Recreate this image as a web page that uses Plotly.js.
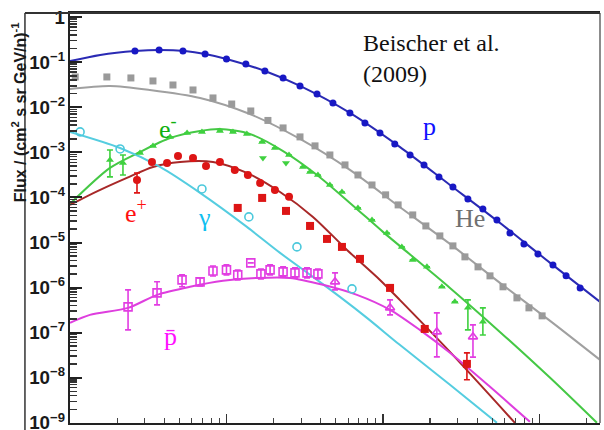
<!DOCTYPE html>
<html>
<head>
<meta charset="utf-8">
<script src="https://cdn.plot.ly/plotly-3.0.1.min.js"></script>
<style>html,body{margin:0;padding:0;background:#fff;}#chart{width:604px;height:430px;}</style>
</head>
<body>
<div id="chart"></div>
<script>
// ---- Data (energy in GeV/n, flux in (cm^2 s sr GeV/n)^-1) ----
// Protons
const pE = [0.260,0.371,0.527,0.73,1.0,1.33,1.76,2.30,2.95,3.79,4.79,6.15,7.67,9.57,11.9,14.9,18.3,22.8,28.0,34.9,43.5,53.5,64.8,79.6,97.8,122,148,182];
const pF = [0.177,0.187,0.177,0.152,0.118,0.0912,0.0638,0.0447,0.0297,0.0197,0.0124,7.48e-3,4.49e-3,2.69e-3,1.53e-3,8.75e-4,5.26e-4,2.85e-4,1.71e-4,9.27e-5,5.56e-5,3.17e-5,1.63e-5,9.31e-6,5.58e-6,3.18e-6,1.82e-6,9.84e-7];
const pModelE = [0.1,0.156,0.26,0.376,0.543,0.73,1.0,1.76,2.95,6.15,12.8,26.8,55.9,117,244];
const pModelF = [0.106,0.145,0.177,0.187,0.177,0.152,0.118,0.0638,0.0297,7.48e-3,1.32e-3,1.89e-4,2.72e-5,3.53e-6,4.82e-7];
// Helium
const heE = [0.108,0.172,0.245,0.339,0.455,0.611,0.82,1.08,1.43,1.84,2.30,2.95,3.68,4.58,5.72,6.92,8.51,10.4,12.5,15.5,18.8,23.1,28.0,33.4,40.5,48.3,58.5,71.8,85.7,104];
const heF = [0.047,0.047,0.0447,0.0383,0.0312,0.0242,0.0161,0.0118,8.28e-3,5.1e-3,3.48e-3,2.20e-3,1.39e-3,8.75e-4,5.26e-4,3.15e-4,1.89e-4,1.14e-4,6.82e-5,4.09e-5,2.33e-5,1.40e-5,8.41e-6,4.80e-6,2.88e-6,1.82e-6,1.04e-6,5.91e-7,3.55e-7,2.36e-7];
const heModelE = [0.1,0.180,0.324,0.678,1.41,2.95,6.15,12.8,26.8,55.9,117,244];
const heModelF = [0.0255,0.0297,0.0242,0.0161,7.10e-3,1.98e-3,4.07e-4,6.15e-5,9.31e-6,1.27e-6,1.83e-7,2.49e-8];
// Electrons
const emE = [0.180,0.218,0.280,0.339,0.436,0.560,0.697,0.908,1.10,1.35,1.69,2.04,2.51,3.08,3.42,3.84,4.58,5.47,6.92,8.51,10.6,13.2,15.5,19.1,23.8,28.8,34.9,43.5];
const emF = [6.79e-4,5.82e-4,9.70e-4,1.39e-3,2.20e-3,2.69e-3,2.84e-3,2.98e-3,2.84e-3,2.56e-3,1.70e-3,1.25e-3,8.75e-4,4.74e-4,3.67e-4,3.15e-4,1.89e-4,1.32e-4,5.85e-5,3.17e-5,1.63e-5,7.98e-6,4.11e-6,2.88e-6,1.04e-6,4.82e-7,3.55e-7,1.74e-7];
const emErrPlus  = [4.5e-4,2.93e-4,0,0,0,0,0,0,0,0,0,0,0,0,0,0,0,0,0,0,0,0,0,0,0,0,1.79e-7,1.81e-7];
const emErrMinus = [3.94e-4,2.67e-4,0,0,0,0,0,0,0,0,0,0,0,0,0,0,0,0,0,0,0,0,0,0,0,0,2.4e-7,8.5e-8];
const emDownE = [1.71,2.40];
const emDownF = [7.52e-4,5.82e-4];
const emModelE = [0.1,0.180,0.280,0.436,0.678,0.908,1.41,2.30,3.79,6.15,10.0,12.8,26.8,55.9,117,233];
const emModelF = [7.18e-5,4.51e-4,1.02e-3,2.08e-3,2.98e-3,3.30e-3,2.56e-3,1.07e-3,3.15e-4,7.55e-5,1.72e-5,8.41e-6,9.84e-7,1.04e-7,9.95e-9,1.0e-9];
// Positrons
const epCircE = [0.268,0.334,0.417,0.490,0.611,0.740,0.908,1.13,1.37,1.64,2.04,2.51];
const epCircF = [2.44e-4,6.12e-4,5.82e-4,8.32e-4,7.52e-4,4.99e-4,6.12e-4,4.07e-4,3.15e-4,2.10e-4,1.47e-4,1.03e-4];
const epCircErrPlus  = [1.05e-4,0,0,0,0,0,0,0,0,0,0,0];
const epCircErrMinus = [1.18e-4,0,0,0,0,0,0,0,0,0,0,0];
const epSqE = [1.18,1.69,2.40,3.42,4.39,5.47,7.13,11.1,18.5,34.4];
const epSqF = [5.85e-5,9.75e-5,5.02e-5,2.33e-5,1.20e-5,7.98e-6,4.33e-6,9.84e-7,1.21e-7,2.03e-8];
const epSqErrPlus  = [0,0,0,0,0,0,0,0,0,1.54e-8];
const epSqErrMinus = [0,0,0,0,0,0,0,0,0,1.13e-8];
const epModelE = [0.1,0.156,0.231,0.339,0.505,0.82,1.35,2.20,3.57,5.89,9.57,12.8,26.8,69.7];
const epModelF = [6.82e-5,1.47e-4,2.71e-4,4.74e-4,6.12e-4,6.12e-4,3.49e-4,1.32e-4,3.70e-5,6.85e-6,1.48e-6,5.34e-7,3.75e-8,1.0e-9];
// Gamma
const gE = [0.116,0.209,0.697,1.39,2.82,6.34];
const gF = [2.84e-3,1.19e-3,1.54e-4,3.70e-5,7.98e-6,9.35e-7];
const gModelE = [0.1,0.209,0.376,0.678,1.35,2.20,3.57,5.31,7.90,12.8,26.8,53.5];
const gModelF = [2.84e-3,1.25e-3,4.74e-4,1.26e-4,2.22e-5,5.88e-6,1.73e-6,6.22e-7,2.13e-7,5.37e-8,6.97e-9,1.0e-9];
// Antiprotons
const pbSqE = [0.235,0.360,0.520,0.678,0.82,1.0,1.18,1.43,1.66,1.90,2.30,2.74,3.27,3.84];
const pbSqF = [3.73e-7,7.63e-7,1.48e-6,1.34e-6,2.34e-6,2.47e-6,1.91e-6,3.53e-6,2.01e-6,2.47e-6,2.23e-6,2.12e-6,2.12e-6,2.01e-6];
const pbSqErrPlus  = [5.16e-7,5.8e-7,4.3e-7,3.0e-7,6.8e-7,7.2e-7,5.5e-7,0,5.8e-7,7.2e-7,6.5e-7,6.1e-7,6.1e-7,5.8e-7];
const pbSqErrMinus = [2.58e-7,3.5e-7,4.4e-7,2.5e-7,5.3e-7,5.6e-7,4.3e-7,0,4.5e-7,5.6e-7,5.0e-7,4.8e-7,4.8e-7,4.5e-7];
const pbTriE = [4.94,11.1,22.1,37.6];
const pbTriF = [1.34e-6,3.55e-7,1.04e-7,8.07e-8];
const pbTriErrPlus  = [7.8e-7,1.8e-7,1.71e-7,6.8e-8];
const pbTriErrMinus = [4.5e-7,1.07e-7,7.5e-8,5.2e-8];
const pbModelE = [0.1,0.134,0.235,0.360,0.585,0.95,1.57,2.55,4.14,6.82,11.1,17.2,26.8,48.3,86.9];
const pbModelF = [1.65e-7,2.48e-7,3.55e-7,6.89e-7,1.04e-6,1.41e-6,1.64e-6,1.64e-6,1.15e-6,6.89e-7,3.21e-7,1.15e-7,3.57e-8,6.28e-9,1.05e-9];

// ---- Styling ----
const C = {
  p: '#1818c4', pLine: '#2a2ab4',
  he: '#9a9a9a', heLine: '#a0a0a0',
  em: '#3fd13f', emLine: '#45c845',
  ep: '#dd1515', epLine: '#a82828',
  g: '#4cc9dc', gLine: '#55cde0',
  pb: '#e23de2', pbLine: '#de3ede'
};

function line(x, y, color) {
  return {x, y, type: 'scatter', mode: 'lines', line: {color, width: 2, shape: 'spline', smoothing: 0.8}, hoverinfo: 'skip'};
}
function pts(x, y, color, symbol, size, ep, em) {
  const t = {x, y, type: 'scatter', mode: 'markers',
    marker: {color, symbol, size, line: {color, width: symbol.indexOf('open') >= 0 ? 1.6 : 0}}};
  if (ep) t.error_y = {type: 'data', symmetric: false, array: ep, arrayminus: em, color, thickness: 1.6, width: 3};
  return t;
}

const data = [
  line(pModelE, pModelF, C.pLine),
  line(heModelE, heModelF, C.heLine),
  line(emModelE, emModelF, C.emLine),
  line(epModelE, epModelF, C.epLine),
  line(gModelE, gModelF, C.gLine),
  line(pbModelE, pbModelF, C.pbLine),
  pts(pE, pF, C.p, 'circle', 7),
  pts(heE, heF, C.he, 'square', 7),
  pts(emE, emF, C.em, 'triangle-up', 7, emErrPlus, emErrMinus),
  pts(emDownE, emDownF, C.em, 'triangle-down', 7),
  pts(epCircE, epCircF, C.ep, 'circle', 8, epCircErrPlus, epCircErrMinus),
  pts(epSqE, epSqF, C.ep, 'square', 8, epSqErrPlus, epSqErrMinus),
  pts(gE, gF, C.g, 'circle-open', 8),
  pts(pbSqE, pbSqF, C.pb, 'square-open', 8, pbSqErrPlus, pbSqErrMinus),
  pts(pbTriE, pbTriF, C.pb, 'triangle-up-open', 8, pbTriErrPlus, pbTriErrMinus)
];

const serif = 'Liberation Serif, DejaVu Serif, serif';
function lab(text, x, y, color, size) {
  return {text, x, y, xref: 'paper', yref: 'paper', showarrow: false, xanchor: 'center', yanchor: 'middle',
    font: {family: serif, size: size || 26, color}};
}

const layout = {
  width: 604, height: 430,
  margin: {l: 70, r: 4, t: 13, b: 7},
  paper_bgcolor: '#ffffff', plot_bgcolor: '#ffffff',
  showlegend: false,
  xaxis: {
    type: 'log', range: [-1, 2.387],
    showgrid: false, zeroline: false,
    showline: true, linecolor: '#222', linewidth: 2, mirror: true,
    ticks: 'inside', ticklen: 9, tickwidth: 1.5, tickcolor: '#333',
    dtick: 1, showticklabels: false,
    minor: {ticks: 'inside', ticklen: 5, tickwidth: 1.2, tickcolor: '#444', dtick: 'D1', showgrid: false}
  },
  yaxis: {
    type: 'log', range: [-9.004, 0.091],
    showgrid: false, zeroline: false,
    showline: true, linecolor: '#222', linewidth: 2, mirror: false,
    ticks: 'inside', ticklen: 12, tickwidth: 2, tickcolor: '#222',
    dtick: 1, exponentformat: 'power', ticklabeloverflow: 'allow',
    tickfont: {family: 'Liberation Sans, Arial, sans-serif', size: 15, color: '#1a1a1a', weight: 'bold'},
    minor: {ticks: 'inside', ticklen: 7, tickwidth: 1.5, tickcolor: '#333', dtick: 'D1', showgrid: false}
  },
  shapes: [
    {type: 'line', xref: 'paper', yref: 'paper', x0: 1, x1: 1, y0: 0, y1: 1, line: {color: '#8c8c8c', width: 2}},
    {type: 'line', xref: 'paper', yref: 'paper', x0: -0.085, x1: 1, y0: 1, y1: 1, line: {color: '#333', width: 2}},
    {type: 'line', xref: 'paper', yref: 'paper', x0: -0.085, x1: -0.085, y0: -0.03, y1: 1, line: {color: '#333', width: 1.5}}
  ],
  annotations: [
    {text: 'Beischer et al.<br>(2009)', x: 0.549, y: 0.89, xref: 'paper', yref: 'paper', showarrow: false,
      xanchor: 'left', yanchor: 'middle', align: 'left', font: {family: serif, size: 24, color: '#111'}},
    lab('p', 0.679, 0.724, '#1010ff'),
    lab('He', 0.755, 0.50, '#707070'),
    lab('e<sup>-</sup>', 0.185, 0.72, '#10b010'),
    lab('e<sup>+</sup>', 0.125, 0.515, '#ff1010'),
    lab('γ', 0.253, 0.502, '#10c0f0'),
    lab('p\u0304', 0.19, 0.212, '#ff10ff'),
    {text: '<b>Flux / (cm<sup>2</sup> s sr GeV/n)<sup>-1</sup></b>', textangle: -90,
      x: -0.0962, y: 0.758, xref: 'paper', yref: 'paper', showarrow: false, xanchor: 'center', yanchor: 'middle',
      font: {family: 'Liberation Sans, Arial, sans-serif', size: 16, color: '#1a1a1a'}}
  ]
};

Plotly.newPlot('chart', data, layout, {displayModeBar: false, staticPlot: true});
</script>
</body>
</html>
